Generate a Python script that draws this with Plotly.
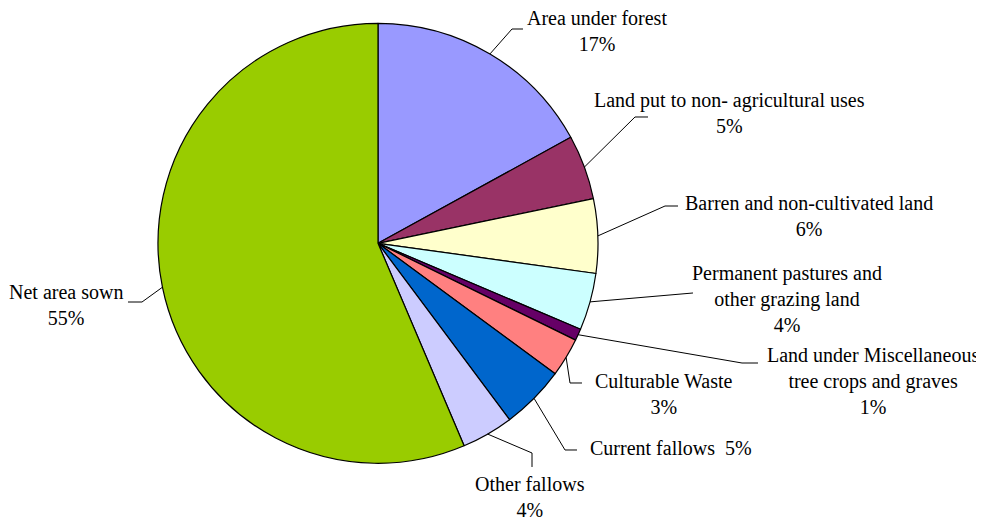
import math
import plotly.graph_objects as go

# ---- data ----
categories = [
    "Area under forest",
    "Land put to non- agricultural uses",
    "Barren and non-cultivated land",
    "Permanent pastures and other grazing land",
    "Land under Miscellaneous tree crops and graves",
    "Culturable Waste",
    "Current fallows",
    "Other fallows",
    "Net area sown",
]
values = [17.0, 4.74, 5.45, 4.2, 0.86, 2.85, 4.7, 3.8, 56.4]
pct_labels = ["17%", "5%", "6%", "4%", "1%", "3%", "5%", "4%", "55%"]
label_text = [
    "Area under forest<br>{p}",
    "Land put to non- agricultural uses<br>{p}",
    "Barren and non-cultivated land<br>{p}",
    "Permanent pastures and<br>other grazing land<br>{p}",
    "Land under Miscellaneous<br>tree crops and graves<br>{p}",
    "Culturable Waste<br>{p}",
    "Current fallows  {p}",
    "Other fallows<br>{p}",
    "Net area sown<br>{p}",
]
colors = ["#9999FF", "#993366", "#FFFFCC", "#CCFFFF", "#660066",
          "#FF8080", "#0066CC", "#CCCCFF", "#99CC00"]

# ---- layout (window pixels) ----
OFF = 8                      # default page margin around the plot
W, H = 984 - OFF, 520 - OFF  # figure size so it fills the window
CX, CY, R = 378, 243.3, 220
# label block centres and leader elbow/end points, in window pixels
label_pos = [(597, 31), (729, 113), (809, 216), (787, 299), (873, 381),
             (664, 394), (671, 448), (530, 497), (66, 305)]
leader_pts = [
    [(512, 29), (523, 29)],
    [(635, 117), (648, 117)],
    [(665, 206), (678, 206)],
    [(693, 293)],
    [(742, 363), (758, 363)],
    [(570, 383), (582, 383)],
    [(565, 450), (577, 450)],
    [(532, 453), (532, 467)],
    [(142, 302), (128, 302)],
]

def px(x):
    return (x - OFF) / W

def py(y):
    return 1 - (y - OFF) / H

FONT = dict(family="Liberation Serif, Times New Roman, serif", size=20, color="#000000")

fig = go.Figure(go.Pie(
    labels=categories,
    values=values,
    sort=False,
    direction="clockwise",
    rotation=0,
    marker=dict(colors=colors, line=dict(color="#000000", width=1.2)),
    textinfo="none",
    showlegend=False,
    domain=dict(x=[px(CX - R), px(CX + R)], y=[py(CY + R), py(CY - R)]),
))

total = sum(values)
cum = 0.0
shapes = []
annotations = []
for i, v in enumerate(values):
    mid = (cum + v / 2) / total * 2 * math.pi
    cum += v
    sx = CX + R * math.sin(mid)
    sy = CY - R * math.cos(mid)
    pts = [(sx, sy)] + leader_pts[i]
    path = "M " + " L ".join(f"{px(x):.5f},{py(y):.5f}" for x, y in pts)
    shapes.append(dict(type="path", xref="paper", yref="paper", path=path,
                       line=dict(color="#000000", width=1)))
    lx, ly = label_pos[i]
    annotations.append(dict(
        x=px(lx), y=py(ly), xref="paper", yref="paper",
        text=label_text[i].format(p=pct_labels[i]),
        showarrow=False, xanchor="center", yanchor="middle", align="center",
        font=FONT,
    ))

fig.update_layout(
    width=W, height=H,
    margin=dict(l=0, r=0, t=0, b=0),
    paper_bgcolor="white", plot_bgcolor="white",
    shapes=shapes, annotations=annotations,
)

fig.write_html("out.html")
